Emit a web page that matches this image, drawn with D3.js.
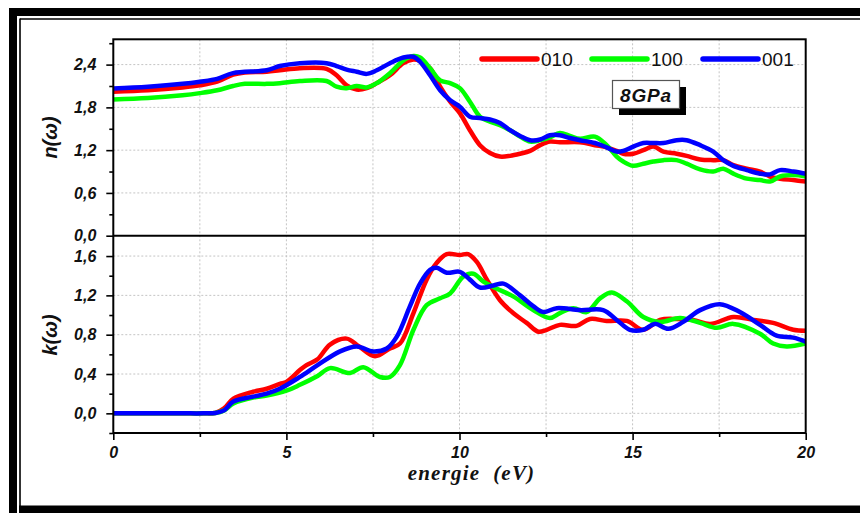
<!DOCTYPE html>
<html>
<head>
<meta charset="utf-8">
<script src="https://cdn.jsdelivr.net/npm/d3@7"></script>
<style>
  html, body { margin: 0; padding: 0; background: #fff; }
  svg { display: block; }
</style>
</head>
<body>
<svg id="chart" width="860" height="513"></svg>
<script>
// Refractive index n(ω) and extinction coefficient k(ω) at 8 GPa, three polarisations
const seriesNames = ["010", "100", "001"];
const seriesColors = ["#ff0000", "#00ff00", "#0000ff"];

// n(ω) — energies (eV) and values
const nEnergy010 = [0, 1.0, 2.0, 2.5, 3.0, 3.46, 3.8, 4.43, 4.81, 5.39, 6.16, 6.45, 6.74, 7.03, 7.32, 7.61, 7.99, 8.38, 8.67, 8.86, 9.15, 9.44, 9.73, 10.01, 10.3, 10.59, 10.88, 11.17, 11.46, 11.75, 12.04, 12.33, 12.61, 12.9, 13.48, 13.91, 14.25, 14.54, 14.73, 15.02, 15.31, 15.6, 15.89, 16.27, 16.56, 16.95, 17.33, 17.62, 17.91, 18.3, 18.68, 18.97, 19.26, 19.64, 20];
const n010 = [2.02, 2.04, 2.08, 2.11, 2.16, 2.26, 2.29, 2.30, 2.32, 2.35, 2.34, 2.25, 2.11, 2.05, 2.07, 2.14, 2.25, 2.42, 2.47, 2.45, 2.35, 2.09, 1.88, 1.72, 1.48, 1.27, 1.16, 1.11, 1.12, 1.15, 1.19, 1.27, 1.32, 1.31, 1.31, 1.27, 1.24, 1.19, 1.15, 1.15, 1.20, 1.25, 1.18, 1.15, 1.12, 1.07, 1.06, 1.06, 0.99, 0.94, 0.90, 0.83, 0.80, 0.78, 0.76];

const nEnergy100 = [0, 1.0, 2.0, 2.5, 3.0, 3.46, 3.8, 4.43, 4.81, 5.39, 6.16, 6.45, 6.74, 7.03, 7.32, 7.61, 7.99, 8.38, 8.67, 8.86, 9.15, 9.44, 9.73, 10.01, 10.3, 10.59, 10.88, 11.17, 11.46, 11.75, 12.04, 12.33, 12.61, 12.9, 13.19, 13.48, 13.91, 14.25, 14.54, 14.73, 15.02, 15.31, 15.6, 15.89, 16.27, 16.56, 16.95, 17.33, 17.62, 17.91, 18.3, 18.68, 18.97, 19.26, 19.64, 20];
const n100 = [1.91, 1.93, 1.97, 2.00, 2.04, 2.10, 2.13, 2.13, 2.14, 2.17, 2.17, 2.09, 2.07, 2.10, 2.08, 2.14, 2.28, 2.46, 2.52, 2.50, 2.35, 2.18, 2.14, 2.07, 1.88, 1.67, 1.60, 1.55, 1.48, 1.39, 1.32, 1.34, 1.38, 1.44, 1.40, 1.36, 1.39, 1.27, 1.11, 1.04, 0.98, 1.01, 1.04, 1.06, 1.06, 1.01, 0.93, 0.90, 0.94, 0.87, 0.80, 0.78, 0.76, 0.83, 0.85, 0.83];

const nEnergy001 = [0, 1.0, 2.0, 2.5, 3.0, 3.46, 4.43, 4.81, 5.39, 6.16, 6.45, 6.74, 7.03, 7.32, 7.61, 7.99, 8.38, 8.67, 8.86, 9.15, 9.44, 9.73, 10.01, 10.3, 10.59, 10.88, 11.17, 11.46, 11.75, 12.04, 12.33, 12.61, 12.9, 13.19, 13.48, 13.91, 14.25, 14.54, 14.73, 15.02, 15.31, 15.6, 15.89, 16.27, 16.56, 16.95, 17.33, 17.62, 17.91, 18.3, 18.68, 18.97, 19.26, 19.64, 20];
const n001 = [2.066, 2.09, 2.13, 2.16, 2.20, 2.28, 2.32, 2.38, 2.42, 2.42, 2.38, 2.33, 2.30, 2.27, 2.32, 2.42, 2.50, 2.51, 2.44, 2.25, 2.04, 1.90, 1.81, 1.67, 1.65, 1.63, 1.58, 1.48, 1.40, 1.34, 1.35, 1.41, 1.41, 1.37, 1.34, 1.30, 1.24, 1.18, 1.19, 1.25, 1.30, 1.30, 1.30, 1.34, 1.34, 1.27, 1.18, 1.06, 0.98, 0.92, 0.87, 0.86, 0.92, 0.90, 0.87];

// k(ω) — energies (eV) and values
const kEnergy010 = [0, 1.0, 2.0, 2.6, 2.95, 3.2, 3.47, 4.04, 4.43, 4.81, 5.0, 5.39, 5.58, 5.9, 6.26, 6.74, 7.1, 7.56, 7.99, 8.28, 8.67, 9.05, 9.34, 9.63, 10.01, 10.25, 10.5, 10.79, 11.17, 11.55, 11.94, 12.28, 12.52, 12.9, 13.38, 13.77, 14.25, 14.83, 15.31, 15.79, 16.27, 16.75, 17.24, 17.91, 18.49, 19.06, 19.64, 20];
const k010 = [0, 0, 0, 0, 0.005, 0.05, 0.15, 0.22, 0.25, 0.30, 0.32, 0.44, 0.49, 0.55, 0.70, 0.76, 0.68, 0.58, 0.66, 0.71, 1.02, 1.36, 1.53, 1.62, 1.61, 1.62, 1.54, 1.36, 1.15, 1.02, 0.92, 0.83, 0.85, 0.90, 0.89, 0.96, 0.94, 0.94, 0.85, 0.95, 0.96, 0.95, 0.91, 0.98, 0.95, 0.92, 0.85, 0.84];

const kEnergy100 = [0, 1.0, 2.0, 2.6, 2.95, 3.2, 3.47, 4.04, 4.43, 5.0, 5.39, 5.9, 6.26, 6.84, 7.22, 7.7, 7.99, 8.28, 8.67, 9.05, 9.44, 9.73, 10.11, 10.4, 10.69, 11.07, 11.55, 12.13, 12.61, 12.9, 13.29, 13.67, 14.06, 14.4, 14.83, 15.31, 15.79, 16.37, 16.95, 17.43, 17.91, 18.68, 19.06, 19.45, 20];
const k100 = [0, 0, 0, 0, 0.004, 0.03, 0.10, 0.16, 0.18, 0.23, 0.29, 0.38, 0.46, 0.41, 0.47, 0.37, 0.37, 0.49, 0.85, 1.10, 1.17, 1.22, 1.39, 1.42, 1.34, 1.27, 1.19, 1.05, 0.97, 1.02, 1.07, 1.03, 1.17, 1.23, 1.14, 0.98, 0.93, 0.97, 0.92, 0.87, 0.91, 0.81, 0.71, 0.68, 0.71];

const kEnergy001 = [0, 1.0, 2.0, 2.6, 2.95, 3.2, 3.47, 4.04, 4.43, 4.81, 5.39, 5.9, 6.55, 7.03, 7.51, 7.9, 8.19, 8.57, 8.86, 9.15, 9.34, 9.63, 10.01, 10.3, 10.59, 10.98, 11.27, 11.75, 12.13, 12.42, 12.81, 13.48, 14.15, 14.54, 14.92, 15.31, 15.64, 16.03, 16.46, 16.95, 17.52, 18.1, 18.68, 19.16, 19.64, 20];
const k001 = [0, 0, 0, 0, 0.004, 0.03, 0.12, 0.17, 0.20, 0.25, 0.37, 0.49, 0.63, 0.68, 0.63, 0.66, 0.78, 1.09, 1.32, 1.46, 1.48, 1.43, 1.44, 1.36, 1.28, 1.30, 1.32, 1.20, 1.09, 1.03, 1.07, 1.05, 1.05, 0.95, 0.85, 0.85, 0.91, 0.86, 0.93, 1.05, 1.11, 1.03, 0.90, 0.79, 0.77, 0.73];

// Axis ticks
const xTicks = [0, 5, 10, 15, 20];
const xMinorTicks = [2.5, 7.5, 12.5, 17.5];
const xGrid = [2.5, 5, 7.5, 10, 12.5, 15, 17.5];
const nTicks = [0.0, 0.6, 1.2, 1.8, 2.4];
const nMinorTicks = [0.3, 0.9, 1.5, 2.1, 2.7];
const kTicks = [0.0, 0.4, 0.8, 1.2, 1.6];
const kMinorTicks = [-0.2, 0.2, 0.6, 1.0, 1.4];

const nSeries = [[nEnergy010, n010], [nEnergy100, n100], [nEnergy001, n001]];
const kSeries = [[kEnergy010, k010], [kEnergy100, k100], [kEnergy001, k001]];

const svg = d3.select("#chart");
const plotL = 113.3, plotR = 805.7, plotT = 39.3, plotMid = 235.7, plotB = 433;

const x = d3.scaleLinear().domain([0, 20]).range([plotL, plotR]);
const yN = d3.scaleLinear().domain([0, 2.755]).range([plotMid, plotT]);
const yK = d3.scaleLinear().domain([-0.2, 1.807]).range([plotB, plotMid]);

const commaFmt = v => d3.format(".1f")(v).replace(".", ",");

// Outer page frame
const frame = svg.append("g");
frame.append("rect").attr("x", 9).attr("y", 8).attr("width", 8).attr("height", 505).attr("fill", "#000");
frame.append("rect").attr("x", 9).attr("y", 8).attr("width", 851).attr("height", 8).attr("fill", "#000");
frame.append("rect").attr("x", 19).attr("y", 505.5).attr("width", 841).attr("height", 8).attr("fill", "#000");
frame.append("line").attr("x1", 20).attr("x2", 20).attr("y1", 18.5).attr("y2", 506).attr("stroke", "#000").attr("stroke-width", 1.6);
frame.append("line").attr("x1", 20).attr("x2", 860).attr("y1", 19).attr("y2", 19).attr("stroke", "#000").attr("stroke-width", 1.6);

// Grid lines
const grid = svg.append("g").attr("stroke", "#c4c4c4").attr("stroke-width", 1).attr("stroke-dasharray", "2,2");
grid.selectAll("line.vx").data(xGrid).join("line").attr("class", "vx")
  .attr("x1", d => x(d)).attr("x2", d => x(d)).attr("y1", plotT).attr("y2", plotB);
grid.selectAll("line.hn").data(nTicks.filter(d => d > 0)).join("line").attr("class", "hn")
  .attr("x1", plotL).attr("x2", plotR).attr("y1", d => yN(d)).attr("y2", d => yN(d));
grid.selectAll("line.hk").data(kTicks).join("line").attr("class", "hk")
  .attr("x1", plotL).attr("x2", plotR).attr("y1", d => yK(d)).attr("y2", d => yK(d));

// Curves
const line = d3.line().x(d => x(d[0])).y(d => d[2](d[1])).curve(d3.curveCatmullRom.alpha(0.5));
function drawPanel(series, yScale, clipId, y0, y1) {
  svg.append("clipPath").attr("id", clipId).append("rect")
    .attr("x", plotL).attr("y", y0).attr("width", plotR - plotL).attr("height", y1 - y0);
  const g = svg.append("g").attr("clip-path", `url(#${clipId})`);
  series.forEach(([es, vs], i) => {
    const pts = es.map((e, j) => [e, vs[j], yScale]);
    g.append("path").attr("d", line(pts))
      .attr("fill", "none").attr("stroke", seriesColors[i])
      .attr("stroke-width", 4.5).attr("stroke-linejoin", "round").attr("stroke-linecap", "round");
  });
}
drawPanel(nSeries, yN, "clipN", plotT, plotMid);
drawPanel(kSeries, yK, "clipK", plotMid, plotB);

// Axes
const tickFont = "Liberation Sans, Arial, sans-serif";
function styleAxis(g, size) {
  g.select(".domain").remove();
  g.selectAll(".tick line").attr("stroke", "#000").attr("stroke-width", 1.6);
  g.selectAll("text").attr("font-family", tickFont).attr("font-weight", "bold")
    .attr("font-style", "italic").attr("font-size", size).attr("fill", "#111");
}
const axN = svg.append("g").attr("transform", `translate(${plotL},0)`)
  .call(d3.axisLeft(yN).tickValues(nTicks).tickFormat(commaFmt).tickSize(7).tickPadding(10));
styleAxis(axN, 16);
const axNm = svg.append("g").attr("transform", `translate(${plotL},0)`)
  .call(d3.axisLeft(yN).tickValues(nMinorTicks).tickFormat("").tickSize(4));
styleAxis(axNm, 16);
const axK = svg.append("g").attr("transform", `translate(${plotL},0)`)
  .call(d3.axisLeft(yK).tickValues(kTicks).tickFormat(commaFmt).tickSize(7).tickPadding(10));
styleAxis(axK, 16);
const axKm = svg.append("g").attr("transform", `translate(${plotL},0)`)
  .call(d3.axisLeft(yK).tickValues(kMinorTicks).tickFormat("").tickSize(4));
styleAxis(axKm, 16);
const axX = svg.append("g").attr("transform", `translate(0,${plotB})`)
  .call(d3.axisBottom(x).tickValues(xTicks).tickFormat(d3.format("d")).tickSize(7).tickPadding(7));
styleAxis(axX, 16);
axX.selectAll("text").attr("font-family", "Liberation Sans Narrow, Liberation Sans, Arial, sans-serif");
const axXm = svg.append("g").attr("transform", `translate(0,${plotB})`)
  .call(d3.axisBottom(x).tickValues(xMinorTicks).tickFormat("").tickSize(4));
styleAxis(axXm, 16);

// Panel frames
const frames = svg.append("g").attr("fill", "none").attr("stroke", "#000").attr("stroke-width", 2);
frames.append("rect").attr("x", plotL).attr("y", plotT).attr("width", plotR - plotL).attr("height", plotB - plotT);
frames.append("line").attr("x1", plotL).attr("x2", plotR).attr("y1", plotMid).attr("y2", plotMid);

// Axis titles
svg.append("text").attr("x", x(10) + 12).attr("y", 480).attr("text-anchor", "middle")
  .attr("font-family", "Liberation Serif, Times New Roman, serif").attr("font-weight", "bold")
  .attr("font-style", "italic").attr("font-size", 21).attr("letter-spacing", 1.2).attr("fill", "#111")
  .style("white-space", "pre").text("energie  (eV)");

function yTitle(label, cy) {
  svg.append("text").attr("transform", `translate(57,${cy}) rotate(-90)`).attr("text-anchor", "middle")
    .attr("font-family", tickFont).attr("font-weight", "bold").attr("font-style", "italic")
    .attr("font-size", 20).attr("fill", "#111").text(label);
}
yTitle("n(ω)", 137.5);
yTitle("k(ω)", 335);

// Legend
const legendX = [482, 592, 703];
const legend = svg.append("g");
seriesNames.forEach((name, i) => {
  legend.append("line").attr("x1", legendX[i]).attr("x2", legendX[i] + 55).attr("y1", 59).attr("y2", 59)
    .attr("stroke", seriesColors[i]).attr("stroke-width", 5.5).attr("stroke-linecap", "round");
  legend.append("text").attr("x", legendX[i] + 59).attr("y", 66).attr("font-family", tickFont)
    .attr("font-size", 19).attr("fill", "#111").text(name);
});

// Pressure tag with drop shadow
const tag = svg.append("g");
tag.append("rect").attr("x", 619).attr("y", 87).attr("width", 67).attr("height", 28).attr("fill", "#000");
tag.append("rect").attr("x", 612.5).attr("y", 80.5).attr("width", 67).attr("height", 28)
  .attr("fill", "#fff").attr("stroke", "#555").attr("stroke-width", 1.2);
tag.append("text").attr("x", 646).attr("y", 102).attr("text-anchor", "middle")
  .attr("font-family", tickFont).attr("font-weight", "bold").attr("font-style", "italic")
  .attr("font-size", 19).attr("letter-spacing", 0.8).attr("fill", "#111").text("8GPa");
</script>
</body>
</html>
